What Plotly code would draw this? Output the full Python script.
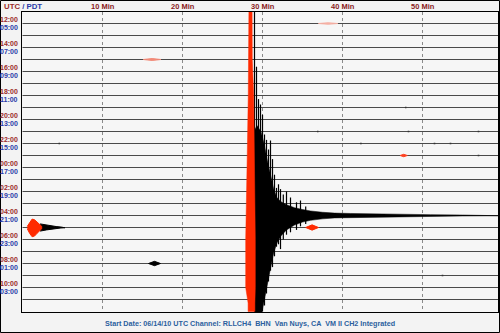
import plotly.graph_objects as go

# ---------------- data ----------------
minute_ticks = [10, 20, 30, 40, 50]
utc_labels = ["12:00", "14:00", "16:00", "18:00", "20:00", "22:00",
              "00:00", "02:00", "04:00", "06:00", "08:00", "10:00"]
pdt_labels = ["05:00", "07:00", "09:00", "11:00", "13:00", "15:00",
              "17:00", "19:00", "21:00", "23:00", "01:00", "03:00"]
n_rows = 24
row_minutes = 59.5

# main quake (row 16), red clipped band across all rows
red_band_row = [-1, 3, 6, 10, 14, 16, 18, 22, 23.3, 24]
red_band_left = [28.3, 28.28, 28.22, 28.12, 28.0, 27.88, 27.9, 27.9, 28.2, 28.2]
red_band_right = [28.7, 28.72, 28.9, 29.0, 29.04, 29.08, 29.1, 29.1, 29.05, 29.05]

quake_row = 16
coda_t = [28.95, 29.3, 29.8, 30.2, 30.6, 31.0, 31.4, 31.8, 32.3, 33.0, 34.0, 35.0,
          36.0, 37.5, 39.0, 41.0, 43.0, 45.0, 48.0, 51.0, 55.0, 59.5]
coda_up = [7.0, 7.5, 7.0, 6.0, 4.6, 3.3, 2.2, 1.5, 1.15, 0.9, 0.65, 0.5,
           0.38, 0.27, 0.2, 0.17, 0.14, 0.12, 0.09, 0.07, 0.04, 0.02]
coda_dn = [8.5, 8.5, 8.5, 7.4, 5.8, 4.4, 3.1, 2.3, 1.7, 1.2, 0.8, 0.55,
           0.4, 0.28, 0.2, 0.17, 0.14, 0.12, 0.09, 0.07, 0.04, 0.02]

spike_t = [29.0, 29.25, 29.5, 29.75, 30.0, 30.25, 30.5, 30.75, 31.0, 31.25,
           31.5, 31.75, 32.0, 32.25, 32.6, 33.0, 33.5, 34.25, 34.75, 35.4]
spike_up = [17, 12.4, 9.7, 9.25, 8.4, 6.75, 6.3, 5.5, 6.25, 4.7,
            3.4, 2.3, 2.6, 2.2, 1.75, 2.0, 1.5, 1.1, 1.25, 0.75]
spike_dn = [8.5, 8.5, 8.5, 8.5, 8.0, 7.5, 6.5, 5.5, 4.6, 4.3,
            3.4, 2.6, 2.4, 2.8, 2.0, 1.6, 1.4, 1.2, 0.9, 0.7]

# local event on row 17 (red part + black tail)
ev_row = 17
ev_red_t = [0.6, 0.9, 1.2, 1.5, 1.8, 2.1, 2.4]
ev_red_amp = [0.1, 0.45, 0.7, 0.65, 0.45, 0.25, 0.1]
ev_tail_t = [2.2, 3.0, 3.6, 4.2, 4.8, 5.3]
ev_tail_amp = [0.3, 0.2, 0.12, 0.08, 0.04, 0.02]

# small marks: (row, start min, end min, amplitude, colour)
marks_row = [17, 20, 3, 0, 11]
marks_t0 = [35.4, 15.75, 15.1, 37.0, 47.2]
marks_t1 = [37.0, 17.25, 17.3, 39.4, 48.1]
marks_amp = [0.22, 0.18, 0.08, 0.06, 0.1]
marks_col = ["#ff2a00", "#000000", "#f28a78", "#f6b0a4", "#ff4020"]

dots_row = [9, 9, 9, 11, 10, 10, 10, 21, 7, 10]
dots_t = [36.9, 48.25, 57.0, 57.0, 4.6, 51.5, 53.5, 52.5, 47.9, 42.3]

RED = "#ff2a00"
fig = go.Figure()

# baselines (flat traces)
bx, by = [], []
for r in range(n_rows):
    bx += [0, row_minutes, None]
    by += [r, r, None]
fig.add_trace(go.Scatter(x=bx, y=by, mode="lines",
                         line=dict(color="#4a4a4a", width=1), hoverinfo="skip"))

# black coda envelope
ex = coda_t + coda_t[::-1]
ey = [quake_row - a for a in coda_up] + [quake_row + a for a in coda_dn[::-1]]
fig.add_trace(go.Scatter(x=ex, y=ey, mode="lines", fill="toself", fillcolor="#000",
                         line=dict(color="#000", width=0.5), hoverinfo="skip"))
# spikes
sx, sy = [], []
for t, u, d in zip(spike_t, spike_up, spike_dn):
    sx += [t, t, None]
    sy += [quake_row - u, quake_row + d, None]
fig.add_trace(go.Scatter(x=sx, y=sy, mode="lines",
                         line=dict(color="#000", width=1.2), hoverinfo="skip"))

# red band
rx = red_band_left + red_band_right[::-1]
ry = red_band_row + red_band_row[::-1]
fig.add_trace(go.Scatter(x=rx, y=ry, mode="lines", fill="toself", fillcolor=RED,
                         line=dict(color=RED, width=0.5), hoverinfo="skip"))

# local event row 17
tx = ev_tail_t + ev_tail_t[::-1]
ty = [ev_row - a for a in ev_tail_amp] + [ev_row + a for a in ev_tail_amp[::-1]]
fig.add_trace(go.Scatter(x=tx, y=ty, mode="lines", fill="toself", fillcolor="#000",
                         line=dict(color="#000", width=1), hoverinfo="skip"))
vx = ev_red_t + ev_red_t[::-1]
vy = [ev_row - a for a in ev_red_amp] + [ev_row + a * 1.1 for a in ev_red_amp[::-1]]
fig.add_trace(go.Scatter(x=vx, y=vy, mode="lines", fill="toself", fillcolor=RED,
                         line=dict(color=RED, width=1), hoverinfo="skip"))

# small marks
for r, t0, t1, a, c in zip(marks_row, marks_t0, marks_t1, marks_amp, marks_col):
    tm = (t0 + t1) / 2
    fig.add_trace(go.Scatter(x=[t0, tm, t1, tm, t0], y=[r, r - a, r, r + a, r],
                             mode="lines", fill="toself", fillcolor=c,
                             line=dict(color=c, width=1), hoverinfo="skip"))
dx, dy = [], []
for r, t in zip(dots_row, dots_t):
    dx += [t - 0.1, t + 0.1, None]
    dy += [r, r, None]
fig.add_trace(go.Scatter(x=dx, y=dy, mode="lines",
                         line=dict(color="#333", width=1.5), hoverinfo="skip"))

FONT = "Liberation Sans, Arial, sans-serif"
RED_T = "#9b2a2a"
BLUE_T = "#2a3aa8"
ann = []
for m in minute_ticks:
    ann.append(dict(x=m, y=1, xref="x", yref="paper", yanchor="middle", yshift=6,
                    text=f"<b>{m} Min</b>", showarrow=False,
                    font=dict(family=FONT, size=7.5, color="#8b1c1c")))
ann.append(dict(x=0, y=1, xref="paper", yref="paper", xanchor="left", yanchor="middle",
                xshift=-20, yshift=6, showarrow=False,
                text=f'<b><span style="color:{RED_T}">UTC</span>'
                     f'<span style="color:{BLUE_T}"> / PDT</span></b>',
                font=dict(family=FONT, size=7.8)))
for i, (u, p) in enumerate(zip(utc_labels, pdt_labels)):
    r = 2 * i
    ann.append(dict(x=0, y=r, xref="paper", yref="y", xanchor="right", yanchor="middle",
                    xshift=-2, yshift=4, showarrow=False, text=f"<b>{u}</b>",
                    font=dict(family=FONT, size=7, color=RED_T)))
    ann.append(dict(x=0, y=r, xref="paper", yref="y", xanchor="right", yanchor="middle",
                    xshift=-2, yshift=-3.5, showarrow=False, text=f"<b>{p}</b>",
                    font=dict(family=FONT, size=7, color=BLUE_T)))
ann.append(dict(x=(250 - 22) / 476, y=0, xref="paper", yref="paper", xanchor="center",
                yanchor="middle", yshift=-11, showarrow=False,
                text="<b>Start Date: 06/14/10 UTC Channel: RLLCH4 \u00a0BHN \u00a0Van Nuys, CA \u00a0VM II CH2 Integrated</b>",
                font=dict(family=FONT, size=7.2, color="#2b5f9e")))

shapes = [dict(type="rect", xref="paper", yref="paper",
               x0=-21.5 / 476, x1=1 + 1.5 / 476, y0=-20.5 / 300, y1=1 + 11.5 / 300,
               line=dict(color="#000", width=1), layer="below")]

fig.update_layout(
    width=500, height=333,
    margin=dict(l=22, r=2, t=12, b=21),
    paper_bgcolor="#f3f3f3", plot_bgcolor="#f6f6f6",
    showlegend=False,
    annotations=ann, shapes=shapes,
    xaxis=dict(range=[-0.0625, 59.4375], showticklabels=False, ticks="",
               showgrid=True, tick0=0, dtick=10, gridcolor="#8a8a8a",
               griddash="dot", gridwidth=1, zeroline=False,
               showline=True, mirror=True, linecolor="#000", linewidth=1),
    yaxis=dict(range=[24.041667, -0.958333], showticklabels=False, ticks="",
               showgrid=False, zeroline=False,
               showline=True, mirror=True, linecolor="#000", linewidth=1),
)
fig.write_html("out.html")
